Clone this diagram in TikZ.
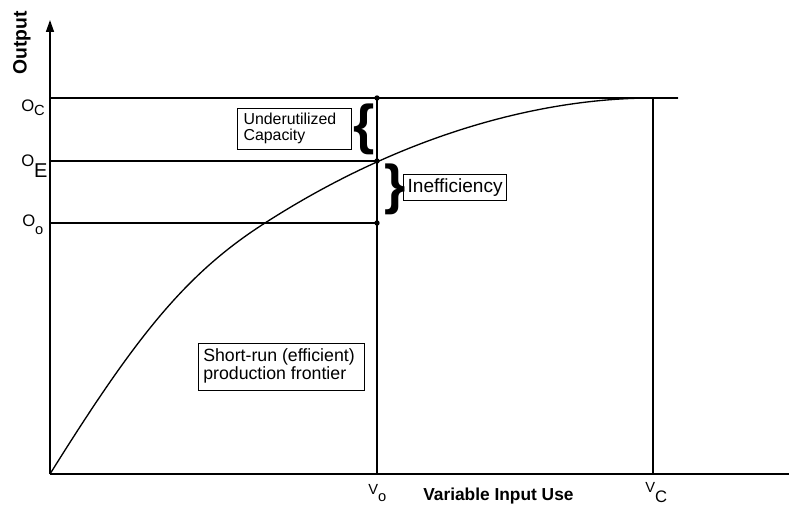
\documentclass[tikz,border=0pt]{standalone}
\usepackage{fontspec}
\setmainfont{Liberation Sans}
\usepackage{tikz}
\usetikzlibrary{arrows.meta}

\tikzset{
  axisline/.style={line width=1.1pt},
  guide/.style={line width=0.9pt},
  frontier/.style={line width=1pt},
  infobox/.style={draw, line width=0.9pt, anchor=north west, inner xsep=3pt, inner ysep=3pt},
  dot/.style={circle, fill, inner sep=0pt, minimum size=4pt},
  bracket/.style={inner sep=0pt, font=\fs{41}\bfseries},
}
\newcommand{\fs}[1]{\fontsize{#1}{#1}\selectfont}

\begin{document}
\begin{tikzpicture}[x=0.75pt,y=-0.75pt]
\useasboundingbox (0,0) rectangle (790,506);

\path[shape=coordinate]
(50,474) coordinate(o) (50,20) coordinate(ytop)
(789,474) coordinate(xend) (678,98) coordinate(flat);
\path[shape=coordinate]
(50,98) coordinate(oc) (50,161) coordinate(oe) (50,223) coordinate(oo)
(377,474) coordinate(v0) (653,474) coordinate(vc)
(377,98) coordinate(p1) (377,161) coordinate(p2) (377,223) coordinate(p3)
(653,98) coordinate(top) (265,223) coordinate(mid);

% axes
\draw[axisline, -{Triangle[length=9pt,width=6pt]}] (o) -- (ytop);
\draw[axisline] (o) -- (xend);

% levels
\draw[guide] (oc) -- (flat);
\draw[guide] (oe) -- (p2);
\draw[guide] (oo) -- (p3);
\draw[guide] (v0) -- (p1);
\draw[guide] (vc) -- (top);

% frontier
\draw[frontier] (o) .. controls (135,338) and (185,274) .. (mid)
  .. controls (405,133) and (543,98) .. (top) -- (flat);

\node[dot] (d1) at (p1) {};
\node[dot] (d2) at (p2) {};
\node[dot] (d3) at (p3) {};

% axis labels
\node[rotate=90, font=\fs{14.5}\bfseries] (ylab) at (22,43) {Output};
\node[anchor=base west, font=\fs{13}\bfseries, inner sep=0pt] (xlab) at (423,500) {Variable Input Use};

\node[anchor=base west, inner sep=0pt] (lc) at (21,112) {\fs{12.5}O\raisebox{-3pt}{\fs{11}C}};
\node[anchor=base west, inner sep=0pt] (le) at (21,167) {\fs{12.5}O\raisebox{-8pt}{\fs{15}E}};
\node[anchor=base west, inner sep=0pt] (lo) at (22,227) {\fs{12.5}O\raisebox{-6pt}{\fs{11}o}};
\node[anchor=base west, inner sep=0pt] (l0) at (368,494) {\fs{11}V\raisebox{-5.5pt}{\fs{11}o}};
\node[anchor=base west, inner sep=0pt] (lv) at (645,492) {\fs{11}V\raisebox{-7.5pt}{\fs{12.5}C}};

% boxes
\node[infobox, inner xsep=4.5pt, font=\fs{11.9}] (t1) at (237,108) {
\begin{tabular}{@{}l@{\hspace{7pt}}}
Underutilized \\
Capacity
\end{tabular}};
\node[infobox, font=\fs{14.3}] (t2) at (403,174) {Inefficiency};
\node[infobox, inner xsep=3.5pt, inner ysep=4pt, font=\fs{13.3}] (t3) at (198,343) {
\begin{tabular}{@{}l@{\hspace{4pt}}}
Short-run (efficient) \\
production frontier
\end{tabular}};

% braces
\node[bracket] (b1) at (364.5,129) {\{};
\node[bracket] (b2) at (395,189) {\}};

\end{tikzpicture}
\end{document}
